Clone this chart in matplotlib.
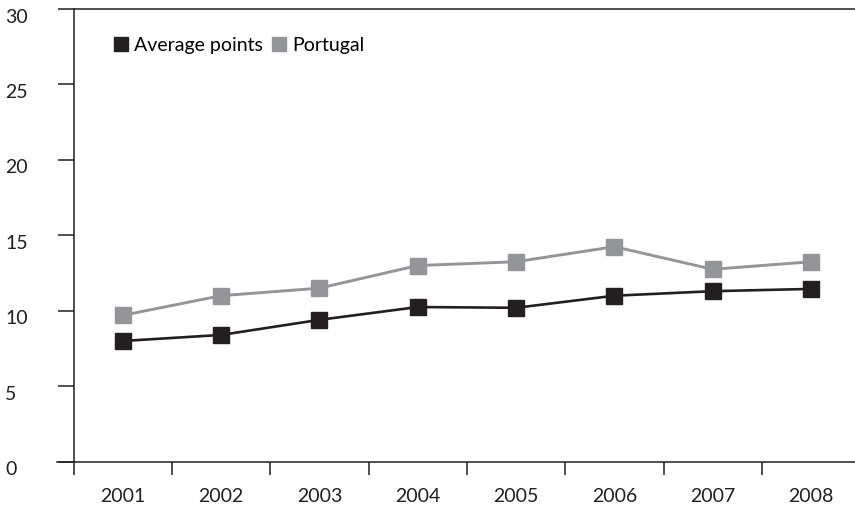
import matplotlib
matplotlib.use("Agg")
import matplotlib.pyplot as plt
import matplotlib.transforms as mtransforms
from matplotlib.lines import Line2D

# Data
years = ["2001", "2002", "2003", "2004", "2005", "2006", "2007", "2008"]
average_points = [8.0, 8.4, 9.4, 10.25, 10.2, 11.0, 11.3, 11.45]
portugal = [9.7, 11.0, 11.5, 13.0, 13.25, 14.25, 12.75, 13.25]
y_ticks = [0, 5, 10, 15, 20, 25, 30]

dark = "#231f20"
grey = "#939598"
fs = 14

plt.rcParams["font.family"] = ["Lato", "DejaVu Sans"]
plt.rcParams["font.size"] = fs

fig = plt.figure(figsize=(8.55, 5.08), dpi=100)
ax = fig.add_axes([73.5 / 855, 1 - 461.7 / 508, 1 - 73.5 / 855, (461.7 - 9) / 508])

x = list(range(len(years)))
ax.plot(x, portugal, color=grey, lw=2.1, marker="s", ms=11.5, mec=grey, mfc=grey,
        solid_joinstyle="miter", zorder=3)
ax.plot(x, average_points, color=dark, lw=1.9, marker="s", ms=11.5, mec=dark, mfc=dark,
        solid_joinstyle="miter", zorder=4)

ax.set_xlim(-0.5, 7.447)
ax.set_ylim(0, 30)

# spines: left, bottom and top only
for side in ["left", "bottom", "top"]:
    ax.spines[side].set_color(dark)
    ax.spines[side].set_linewidth(1.1)
ax.spines["right"].set_visible(False)
ax.spines["bottom"].set_bounds(-0.665, 7.447)
ax.spines["bottom"].set_clip_on(False)

# x ticks at category boundaries, labels at centres
ax.set_xticks(x)
ax.set_xticklabels(years)
ax.set_xticks([i - 0.5 for i in x], minor=True)
ax.tick_params(axis="x", which="major", length=0, pad=19, labelsize=fs, colors=dark)
ax.tick_params(axis="x", which="minor", direction="out", length=9.5, width=1.1, color=dark)

# y ticks outward, labels drawn left-aligned near the figure edge
ax.set_yticks(y_ticks)
ax.set_yticklabels([])
ax.tick_params(axis="y", direction="out", length=11.5, width=1.1, color=dark)
trans = mtransforms.blended_transform_factory(fig.transFigure, ax.transData)
shift = mtransforms.ScaledTranslation(0, -8 / 100, fig.dpi_scale_trans)
for v in y_ticks:
    ax.text(5 / 855, v, str(v), transform=trans + shift, ha="left", va="center",
            fontsize=fs, color=dark, clip_on=False)

handles = [
    Line2D([], [], color=dark, marker="s", linestyle="none", ms=10),
    Line2D([], [], color=grey, marker="s", linestyle="none", ms=10),
]
ax.legend(handles, ["Average points", "Portugal"], ncol=2, frameon=False,
          loc="upper left", bbox_to_anchor=(114 / 855, 1 - 37 / 508),
          bbox_transform=fig.transFigure, handlelength=0.7, handletextpad=0.35,
          columnspacing=0.45, borderaxespad=0, borderpad=0, fontsize=fs)

fig.savefig("out.png", dpi=100)
